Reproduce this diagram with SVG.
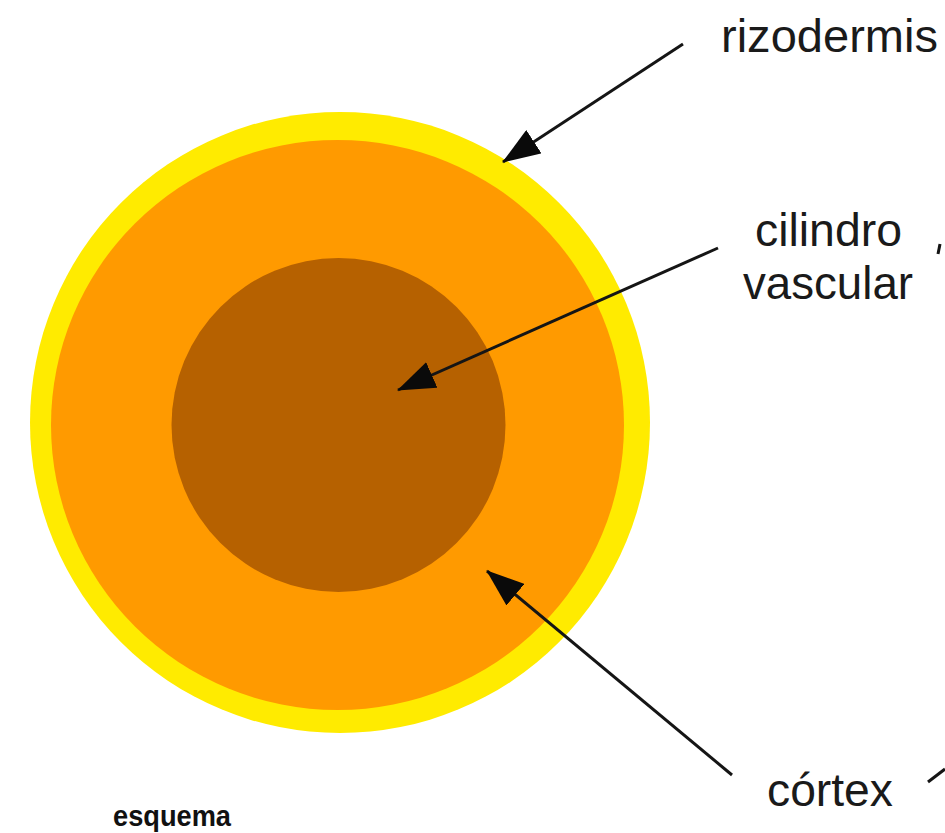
<svg xmlns="http://www.w3.org/2000/svg" width="945" height="833" viewBox="0 0 945 833">
  <style>
    .label { font-family: "Liberation Sans", Arial, sans-serif; font-size: 47px; fill: #1a1a1a; }
    .small { font-family: "Liberation Sans", Arial, sans-serif; font-size: 30px; font-weight: bold; fill: #111; }
    .lead { stroke: #151515; stroke-width: 3; fill: none; }
  </style>
  <defs>
    <marker id="head" viewBox="0 0 38 28" refX="37" refY="14" markerWidth="38" markerHeight="28" markerUnits="userSpaceOnUse" orient="auto">
      <path d="M0,0 L38,14 L0,28 Z" fill="#0a0a0a"/>
    </marker>
  </defs>
  <rect width="945" height="833" fill="#ffffff"/>

  <!-- root cross-section: epidermis, cortex, vascular cylinder -->
  <g id="rizodermis-layer">
    <ellipse cx="340" cy="422.5" rx="310" ry="310.5" fill="#FFEB00"/>
  </g>
  <g id="cortex-layer">
    <ellipse cx="337.5" cy="425" rx="286.5" ry="285" fill="#FF9A00"/>
  </g>
  <g id="vascular-cylinder">
    <circle cx="338.5" cy="425" r="167" fill="#B66100"/>
  </g>

  <!-- leader lines -->
  <g id="connectors">
    <line class="lead" x1="683" y1="44" x2="503" y2="162" marker-end="url(#head)"/>
    <line class="lead" x1="718" y1="248" x2="398" y2="390" marker-end="url(#head)"/>
    <line class="lead" x1="732" y1="775" x2="487" y2="571" marker-end="url(#head)"/>
    <line class="lead" x1="940" y1="244" x2="938" y2="254" stroke-width="2"/>
    <line class="lead" x1="928" y1="782" x2="945" y2="769" stroke-width="2.5"/>
  </g>

  <!-- labels -->
  <g id="label-rizodermis">
    <text class="label" x="721" y="52" textLength="217" lengthAdjust="spacingAndGlyphs">rizodermis</text>
  </g>
  <g id="label-cilindro">
    <text class="label" x="755" y="246" textLength="147" lengthAdjust="spacingAndGlyphs">cilindro</text>
    <text class="label" x="743" y="299" textLength="170" lengthAdjust="spacingAndGlyphs">vascular</text>
  </g>
  <g id="label-cortex">
    <text class="label" x="767" y="806" textLength="126" lengthAdjust="spacingAndGlyphs">córtex</text>
  </g>
  <g id="label-esquema">
    <text class="small" x="113" y="826" textLength="118" lengthAdjust="spacingAndGlyphs">esquema</text>
  </g>
</svg>
